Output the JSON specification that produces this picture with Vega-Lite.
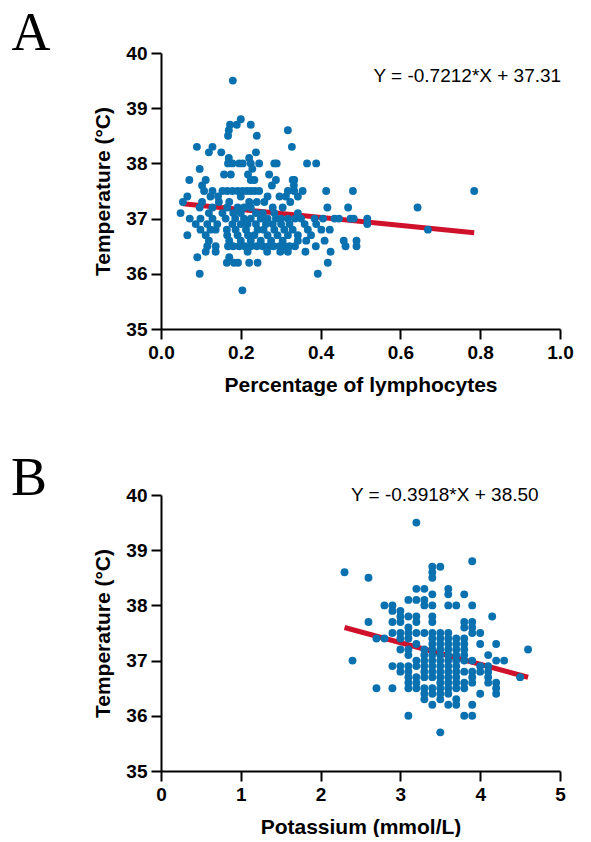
{
  "$schema": "https://vega.github.io/schema/vega-lite/v6.json",
  "background": "white",
  "padding": {"left": 10, "top": 7, "right": 0, "bottom": 0},
  "spacing": 57,
  "config": {
    "view": {"stroke": null},
    "font": "Liberation Sans",
    "axis": {"grid": false, "domainColor": "black", "domainWidth": 2, "tickColor": "black", "tickWidth": 2, "tickSize": 10, "labelFont": "Liberation Sans", "labelFontSize": 19, "labelFontWeight": "bold", "labelColor": "black", "labelPadding": 4, "titleFont": "Liberation Sans", "titleFontSize": 21, "titleFontWeight": "bold", "titleColor": "black", "titlePadding": 12, "labelOverlap": false, "labelFlush": false}
  },
  "datasets": {
    "lymph": [
      {"x":0.18,"y":39.5},{"x":0.2,"y":38.8},
      {"x":0.173,"y":38.7},{"x":0.19,"y":38.7},{"x":0.225,"y":38.7},
      {"x":0.17,"y":38.6},{"x":0.318,"y":38.6},
      {"x":0.168,"y":38.5},{"x":0.24,"y":38.5},
      {"x":0.09,"y":38.3},{"x":0.129,"y":38.3},{"x":0.328,"y":38.3},
      {"x":0.12,"y":38.2},{"x":0.151,"y":38.2},{"x":0.238,"y":38.2},
      {"x":0.17,"y":38.1},{"x":0.221,"y":38.1},
      {"x":0.168,"y":38.0},{"x":0.179,"y":38.0},{"x":0.196,"y":38.0},{"x":0.205,"y":38.0},{"x":0.246,"y":38.0},{"x":0.225,"y":38.0},{"x":0.284,"y":38.0},{"x":0.29,"y":38.0},{"x":0.366,"y":38.0},{"x":0.389,"y":38.0},
      {"x":0.097,"y":37.9},{"x":0.229,"y":37.9},
      {"x":0.158,"y":37.8},{"x":0.175,"y":37.8},{"x":0.218,"y":37.8},{"x":0.271,"y":37.8},
      {"x":0.071,"y":37.7},{"x":0.112,"y":37.7},{"x":0.225,"y":37.7},{"x":0.234,"y":37.7},{"x":0.288,"y":37.7},{"x":0.33,"y":37.7},{"x":0.334,"y":37.7},
      {"x":0.103,"y":37.6},{"x":0.278,"y":37.6},{"x":0.333,"y":37.6},
      {"x":0.108,"y":37.5},{"x":0.129,"y":37.5},{"x":0.154,"y":37.5},{"x":0.166,"y":37.5},{"x":0.179,"y":37.5},{"x":0.192,"y":37.5},{"x":0.204,"y":37.5},{"x":0.215,"y":37.5},{"x":0.225,"y":37.5},{"x":0.235,"y":37.5},{"x":0.246,"y":37.5},{"x":0.318,"y":37.5},{"x":0.334,"y":37.5},{"x":0.355,"y":37.5},{"x":0.414,"y":37.5},{"x":0.481,"y":37.5},{"x":0.785,"y":37.5},
      {"x":0.066,"y":37.4},{"x":0.124,"y":37.4},{"x":0.143,"y":37.4},{"x":0.2,"y":37.4},{"x":0.267,"y":37.4},{"x":0.297,"y":37.4},{"x":0.313,"y":37.4},{"x":0.343,"y":37.4},
      {"x":0.055,"y":37.3},{"x":0.103,"y":37.3},{"x":0.145,"y":37.3},{"x":0.171,"y":37.3},{"x":0.221,"y":37.3},{"x":0.24,"y":37.3},{"x":0.259,"y":37.3},{"x":0.324,"y":37.3},
      {"x":0.097,"y":37.2},{"x":0.129,"y":37.2},{"x":0.166,"y":37.2},{"x":0.192,"y":37.2},{"x":0.208,"y":37.2},{"x":0.225,"y":37.2},{"x":0.28,"y":37.2},{"x":0.305,"y":37.2},{"x":0.417,"y":37.2},{"x":0.469,"y":37.2},{"x":0.643,"y":37.2},
      {"x":0.049,"y":37.1},{"x":0.12,"y":37.1},{"x":0.154,"y":37.1},{"x":0.181,"y":37.1},{"x":0.2,"y":37.1},{"x":0.238,"y":37.1},{"x":0.255,"y":37.1},{"x":0.284,"y":37.1},{"x":0.343,"y":37.1},
      {"x":0.072,"y":37.0},{"x":0.099,"y":37.0},{"x":0.129,"y":37.0},{"x":0.162,"y":37.0},{"x":0.186,"y":37.0},{"x":0.208,"y":37.0},{"x":0.225,"y":37.0},{"x":0.25,"y":37.0},{"x":0.267,"y":37.0},{"x":0.288,"y":37.0},{"x":0.301,"y":37.0},{"x":0.318,"y":37.0},{"x":0.336,"y":37.0},{"x":0.351,"y":37.0},{"x":0.385,"y":37.0},{"x":0.406,"y":37.0},{"x":0.435,"y":37.0},{"x":0.446,"y":37.0},{"x":0.475,"y":37.0},{"x":0.483,"y":37.0},{"x":0.517,"y":37.0},
      {"x":0.087,"y":36.9},{"x":0.116,"y":36.9},{"x":0.141,"y":36.9},{"x":0.179,"y":36.9},{"x":0.2,"y":36.9},{"x":0.217,"y":36.9},{"x":0.238,"y":36.9},{"x":0.263,"y":36.9},{"x":0.28,"y":36.9},{"x":0.301,"y":36.9},{"x":0.322,"y":36.9},{"x":0.36,"y":36.9},{"x":0.389,"y":36.9},{"x":0.517,"y":36.9},
      {"x":0.099,"y":36.8},{"x":0.124,"y":36.8},{"x":0.137,"y":36.8},{"x":0.165,"y":36.8},{"x":0.187,"y":36.8},{"x":0.213,"y":36.8},{"x":0.242,"y":36.8},{"x":0.257,"y":36.8},{"x":0.284,"y":36.8},{"x":0.309,"y":36.8},{"x":0.33,"y":36.8},{"x":0.368,"y":36.8},{"x":0.402,"y":36.8},{"x":0.423,"y":36.8},{"x":0.669,"y":36.8},
      {"x":0.066,"y":36.7},{"x":0.112,"y":36.7},{"x":0.166,"y":36.7},{"x":0.192,"y":36.7},{"x":0.218,"y":36.7},{"x":0.234,"y":36.7},{"x":0.267,"y":36.7},{"x":0.292,"y":36.7},{"x":0.318,"y":36.7},{"x":0.343,"y":36.7},{"x":0.376,"y":36.7},
      {"x":0.12,"y":36.6},{"x":0.171,"y":36.6},{"x":0.2,"y":36.6},{"x":0.225,"y":36.6},{"x":0.25,"y":36.6},{"x":0.276,"y":36.6},{"x":0.305,"y":36.6},{"x":0.343,"y":36.6},{"x":0.364,"y":36.6},{"x":0.41,"y":36.6},{"x":0.458,"y":36.6},{"x":0.49,"y":36.6},
      {"x":0.116,"y":36.5},{"x":0.137,"y":36.5},{"x":0.168,"y":36.5},{"x":0.181,"y":36.5},{"x":0.196,"y":36.5},{"x":0.21,"y":36.5},{"x":0.225,"y":36.5},{"x":0.24,"y":36.5},{"x":0.255,"y":36.5},{"x":0.27,"y":36.5},{"x":0.282,"y":36.5},{"x":0.297,"y":36.5},{"x":0.309,"y":36.5},{"x":0.322,"y":36.5},{"x":0.336,"y":36.5},{"x":0.388,"y":36.5},{"x":0.4625,"y":36.5},{"x":0.49,"y":36.5},
      {"x":0.112,"y":36.4},{"x":0.137,"y":36.4},{"x":0.217,"y":36.4},{"x":0.266,"y":36.4},{"x":0.299,"y":36.4},{"x":0.318,"y":36.4},{"x":0.362,"y":36.4},{"x":0.425,"y":36.4},
      {"x":0.091,"y":36.3},{"x":0.171,"y":36.3},
      {"x":0.165,"y":36.2},{"x":0.183,"y":36.2},{"x":0.193,"y":36.2},{"x":0.221,"y":36.2},{"x":0.242,"y":36.2},{"x":0.418,"y":36.2},
      {"x":0.097,"y":36.0},{"x":0.393,"y":36.0},
      {"x":0.204,"y":35.7}
    ],
    "potassium": [
      {"x":2.3,"y":38.6},{"x":2.4,"y":37.0},{"x":2.6,"y":38.5},{"x":2.6,"y":37.7},
      {"x":2.7,"y":37.4},{"x":2.7,"y":36.5},{"x":2.8,"y":38.0},{"x":2.8,"y":37.4},
      {"x":2.9,"y":38.0},{"x":2.9,"y":37.9},{"x":2.9,"y":37.7},{"x":2.9,"y":37.5},{"x":2.9,"y":36.9},{"x":2.9,"y":36.5},
      {"x":3.0,"y":37.9},{"x":3.0,"y":37.8},{"x":3.0,"y":37.7},{"x":3.0,"y":37.5},{"x":3.0,"y":37.4},{"x":3.0,"y":37.2},{"x":3.0,"y":36.9},{"x":3.0,"y":36.8},
      {"x":3.1,"y":38.1},{"x":3.1,"y":37.8},{"x":3.1,"y":37.6},{"x":3.1,"y":37.5},{"x":3.1,"y":37.4},{"x":3.1,"y":37.2},{"x":3.1,"y":37.1},{"x":3.1,"y":36.9},{"x":3.1,"y":36.8},{"x":3.1,"y":36.7},{"x":3.1,"y":36.6},{"x":3.1,"y":36.5},{"x":3.1,"y":36.0},
      {"x":3.2,"y":39.5},{"x":3.2,"y":38.3},{"x":3.2,"y":38.1},{"x":3.2,"y":37.8},{"x":3.2,"y":37.7},{"x":3.2,"y":37.5},{"x":3.2,"y":37.3},{"x":3.2,"y":37.0},{"x":3.2,"y":36.9},{"x":3.2,"y":36.7},{"x":3.2,"y":36.6},{"x":3.2,"y":36.5},
      {"x":3.3,"y":38.3},{"x":3.3,"y":38.1},{"x":3.3,"y":38.0},{"x":3.3,"y":37.5},{"x":3.3,"y":37.2},{"x":3.3,"y":37.1},{"x":3.3,"y":37.0},{"x":3.3,"y":36.9},{"x":3.3,"y":36.8},{"x":3.3,"y":36.7},{"x":3.3,"y":36.5},{"x":3.3,"y":36.4},{"x":3.3,"y":36.3},
      {"x":3.4,"y":38.7},{"x":3.4,"y":38.6},{"x":3.4,"y":38.5},{"x":3.4,"y":38.2},{"x":3.4,"y":38.0},{"x":3.4,"y":37.8},{"x":3.4,"y":37.7},{"x":3.4,"y":37.5},{"x":3.4,"y":37.4},{"x":3.4,"y":37.3},{"x":3.4,"y":37.2},{"x":3.4,"y":37.1},{"x":3.4,"y":37.0},{"x":3.4,"y":36.9},{"x":3.4,"y":36.8},{"x":3.4,"y":36.7},{"x":3.4,"y":36.5},{"x":3.4,"y":36.4},{"x":3.4,"y":36.2},
      {"x":3.5,"y":38.7},{"x":3.5,"y":37.5},{"x":3.5,"y":37.4},{"x":3.5,"y":37.3},{"x":3.5,"y":37.2},{"x":3.5,"y":37.1},{"x":3.5,"y":37.0},{"x":3.5,"y":36.9},{"x":3.5,"y":36.8},{"x":3.5,"y":36.7},{"x":3.5,"y":36.6},{"x":3.5,"y":36.5},{"x":3.5,"y":36.4},{"x":3.5,"y":36.3},{"x":3.5,"y":35.7},
      {"x":3.6,"y":38.3},{"x":3.6,"y":38.2},{"x":3.6,"y":38.0},{"x":3.6,"y":37.5},{"x":3.6,"y":37.4},{"x":3.6,"y":37.3},{"x":3.6,"y":37.2},{"x":3.6,"y":37.1},{"x":3.6,"y":37.0},{"x":3.6,"y":36.9},{"x":3.6,"y":36.8},{"x":3.6,"y":36.7},{"x":3.6,"y":36.6},{"x":3.6,"y":36.5},{"x":3.6,"y":36.4},{"x":3.6,"y":36.2},
      {"x":3.7,"y":38.0},{"x":3.7,"y":37.4},{"x":3.7,"y":37.3},{"x":3.7,"y":37.2},{"x":3.7,"y":37.1},{"x":3.7,"y":37.0},{"x":3.7,"y":36.9},{"x":3.7,"y":36.8},{"x":3.7,"y":36.7},{"x":3.7,"y":36.6},{"x":3.7,"y":36.5},{"x":3.7,"y":36.3},{"x":3.7,"y":36.2},
      {"x":3.8,"y":38.2},{"x":3.8,"y":37.7},{"x":3.8,"y":37.6},{"x":3.8,"y":37.4},{"x":3.8,"y":37.3},{"x":3.8,"y":37.2},{"x":3.8,"y":37.1},{"x":3.8,"y":37.0},{"x":3.8,"y":36.8},{"x":3.8,"y":36.6},{"x":3.8,"y":36.5},{"x":3.8,"y":36.0},
      {"x":3.9,"y":38.8},{"x":3.9,"y":38.0},{"x":3.9,"y":37.7},{"x":3.9,"y":37.6},{"x":3.9,"y":37.5},{"x":3.9,"y":37.0},{"x":3.9,"y":36.8},{"x":3.9,"y":36.7},{"x":3.9,"y":36.6},{"x":3.9,"y":36.2},{"x":3.9,"y":36.0},
      {"x":4.0,"y":37.5},{"x":4.0,"y":37.3},{"x":4.0,"y":36.9},{"x":4.0,"y":36.8},{"x":4.0,"y":36.4},
      {"x":4.1,"y":37.1},{"x":4.1,"y":36.9},{"x":4.1,"y":36.8},{"x":4.1,"y":36.7},{"x":4.1,"y":36.6},
      {"x":4.15,"y":37.8},
      {"x":4.2,"y":37.3},{"x":4.2,"y":37.0},{"x":4.2,"y":36.6},{"x":4.2,"y":36.5},{"x":4.2,"y":36.4},
      {"x":4.3,"y":37.0},{"x":4.5,"y":36.7},{"x":4.6,"y":37.2}
    ],
    "lineA": [{"x":0.055,"y":37.27},{"x":0.785,"y":36.744}],
    "lineB": [{"x":2.3,"y":37.599},{"x":4.6,"y":36.698}]
  },
  "vconcat": [
    {
      "width": 399,
      "height": 276,
      "encoding": {
        "x": {"field": "x", "type": "quantitative", "scale": {"domain": [0, 1], "nice": false}, "axis": {"values": [0, 0.2, 0.4, 0.6, 0.8, 1], "format": ".1f", "title": "Percentage of lymphocytes"}},
        "y": {"field": "y", "type": "quantitative", "scale": {"domain": [35, 40], "nice": false, "zero": false}, "axis": {"values": [35, 36, 37, 38, 39, 40], "title": "Temperature (°C)"}}
      },
      "layer": [
        {"data": {"name": "lineA"}, "mark": {"type": "line", "color": "#d0112b", "strokeWidth": 5}},
        {"data": {"name": "lymph"}, "mark": {"type": "circle", "size": 62, "color": "#0a71b0", "opacity": 1}},
        {"data": {"values": [{"label": "Y = -0.7212*X + 37.31", "x": 0.5325, "y": 39.58}]}, "mark": {"type": "text", "align": "left", "baseline": "middle", "fontSize": 19, "font": "Liberation Sans", "color": "black"}, "encoding": {"text": {"field": "label"}}},
        {"data": {"values": [{"label": "A", "x": -0.375, "y": 40.05}]}, "mark": {"type": "text", "align": "left", "baseline": "alphabetic", "fontSize": 54, "font": "Liberation Serif", "color": "black"}, "encoding": {"text": {"field": "label"}}}
      ]
    },
    {
      "width": 399,
      "height": 276,
      "encoding": {
        "x": {"field": "x", "type": "quantitative", "scale": {"domain": [0, 5], "nice": false}, "axis": {"values": [0, 1, 2, 3, 4, 5], "format": "d", "title": "Potassium (mmol/L)"}},
        "y": {"field": "y", "type": "quantitative", "scale": {"domain": [35, 40], "nice": false, "zero": false}, "axis": {"values": [35, 36, 37, 38, 39, 40], "title": "Temperature (°C)"}}
      },
      "layer": [
        {"data": {"name": "lineB"}, "mark": {"type": "line", "color": "#d0112b", "strokeWidth": 5}},
        {"data": {"name": "potassium"}, "mark": {"type": "circle", "size": 62, "color": "#0a71b0", "opacity": 1}},
        {"data": {"values": [{"label": "Y = -0.3918*X + 38.50", "x": 2.38, "y": 40.0}]}, "mark": {"type": "text", "align": "left", "baseline": "middle", "fontSize": 19, "font": "Liberation Sans", "color": "black"}, "encoding": {"text": {"field": "label"}}},
        {"data": {"values": [{"label": "B", "x": -1.88, "y": 40.0}]}, "mark": {"type": "text", "align": "left", "baseline": "alphabetic", "fontSize": 54, "font": "Liberation Serif", "color": "black"}, "encoding": {"text": {"field": "label"}}}
      ]
    }
  ]
}
